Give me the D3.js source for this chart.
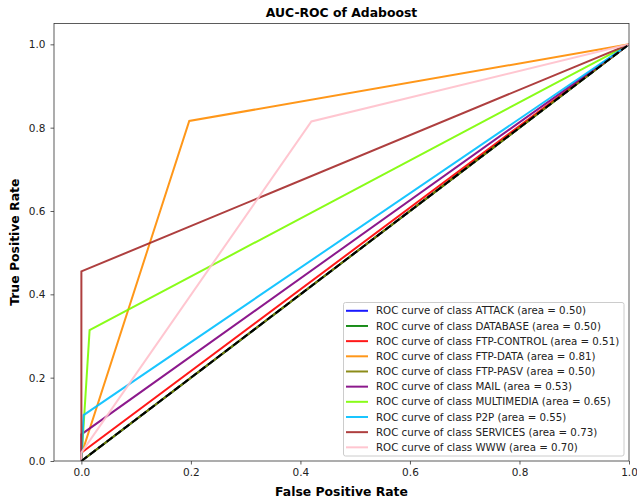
<!DOCTYPE html>
<html>
<head>
<meta charset="utf-8">
<script src="https://cdn.jsdelivr.net/npm/d3@7"></script>
<style>
  html, body { margin: 0; padding: 0; background: #fff; }
  svg { display: block; font-family: "DejaVu Sans", sans-serif; }
</style>
</head>
<body>
<svg id="chart" width="637" height="499"></svg>
<script>
// Per-class ROC curves of the Adaboost classifier (one-vs-rest)
const classes = ["ATTACK", "DATABASE", "FTP-CONTROL", "FTP-DATA", "FTP-PASV",
                 "MAIL", "MULTIMEDIA", "P2P", "SERVICES", "WWW"];
const colors = ["blue", "green", "red", "darkorange", "olive",
                "purple", "lawngreen", "deepskyblue", "brown", "pink"];
const aucLabels = ["0.50", "0.50", "0.51", "0.81", "0.50",
                   "0.53", "0.65", "0.55", "0.73", "0.70"];
// false positive rates / true positive rates per class
const fprs = [
  [0, 0, 1],
  [0, 0, 1],
  [0, 0, 1],
  [0, 0, 0.197, 1],
  [0, 0, 1],
  [0, 0, 1],
  [0, 0.015, 1],
  [0, 0.004, 1],
  [0, 0, 1],
  [0, 0, 0.42, 1]
];
const tprs = [
  [0, 0, 1],
  [0, 0, 1],
  [0, 0.02, 1],
  [0, 0.015, 0.816, 1],
  [0, 0, 1],
  [0, 0.064, 1],
  [0, 0.314, 1],
  [0, 0.11, 1],
  [0, 0.455, 1],
  [0, 0.02, 0.815, 1]
];
const xTicks = [0, 0.2, 0.4, 0.6, 0.8, 1.0];
const yTicks = [0, 0.2, 0.4, 0.6, 0.8, 1.0];

const svg = d3.select("#chart");
const pLeft = 54, pRight = 629, pTop = 23.5, pBottom = 461;
const x = d3.scaleLinear().domain([-0.05, 1.0]).range([pLeft, pRight]);
const y = d3.scaleLinear().domain([0, 1.05]).range([pBottom, pTop]);

svg.append("defs").append("clipPath").attr("id", "clip")
  .append("rect").attr("x", pLeft).attr("y", pTop)
  .attr("width", pRight - pLeft).attr("height", pBottom - pTop);

const line = d3.line().x(d => x(d[0])).y(d => y(d[1]));
const curves = svg.append("g").attr("clip-path", "url(#clip)");
classes.forEach((c, i) => {
  const pts = fprs[i].map((f, j) => [f, tprs[i][j]]);
  curves.append("path").datum(pts)
    .attr("d", line)
    .attr("fill", "none")
    .attr("stroke", colors[i])
    .attr("stroke-opacity", 0.9)
    .attr("stroke-width", 2)
    .attr("stroke-linejoin", "miter");
});
// chance diagonal
curves.append("path").datum([[0, 0], [1, 1]])
  .attr("d", line).attr("fill", "none")
  .attr("stroke", "black").attr("stroke-width", 2)
  .attr("stroke-dasharray", "7.4,3.2");

// axes
const xAxis = d3.axisBottom(x).tickValues(xTicks).tickFormat(d3.format(".1f")).tickSize(3.5).tickPadding(4.5);
const yAxis = d3.axisLeft(y).tickValues(yTicks).tickFormat(d3.format(".1f")).tickSize(3.5).tickPadding(5);
const gx = svg.append("g").attr("transform", `translate(0,${pBottom})`).call(xAxis);
const gy = svg.append("g").attr("transform", `translate(${pLeft},0)`).call(yAxis);
[gx, gy].forEach(g => {
  g.select(".domain").remove();
  g.selectAll("line").attr("stroke", "#333").attr("stroke-width", 0.8);
  g.selectAll("text").attr("fill", "#222").style("font-size", "10.5px").style("font-family", "DejaVu Sans");
});

// frame
svg.append("rect").attr("x", pLeft).attr("y", pTop)
  .attr("width", pRight - pLeft).attr("height", pBottom - pTop)
  .attr("fill", "none").attr("stroke", "#333").attr("stroke-width", 0.8);

// titles
svg.append("text").attr("x", (pLeft + pRight) / 2).attr("y", 17)
  .attr("text-anchor", "middle").style("font-size", "12.4px").style("font-weight", "bold")
  .text("AUC-ROC of Adaboost");
svg.append("text").attr("x", (pLeft + pRight) / 2).attr("y", 495.5)
  .attr("text-anchor", "middle").style("font-size", "12.4px").style("font-weight", "bold")
  .text("False Positive Rate");
svg.append("text").attr("transform", `translate(18.5,${(pTop + pBottom) / 2}) rotate(-90)`)
  .attr("text-anchor", "middle").style("font-size", "12.4px").style("font-weight", "bold")
  .text("True Positive Rate");

// legend
const lg = svg.append("g");
lg.append("rect").attr("x", 343.5).attr("y", 302.5).attr("width", 280.5).attr("height", 153.5)
  .attr("rx", 2).attr("fill", "white").attr("fill-opacity", 0.8)
  .attr("stroke", "#ccc").attr("stroke-width", 1);
classes.forEach((c, i) => {
  const cy = 310.8 + i * 15.17;
  lg.append("line").attr("x1", 346).attr("x2", 368).attr("y1", cy).attr("y2", cy)
    .attr("stroke", colors[i]).attr("stroke-opacity", 0.9).attr("stroke-width", 2);
  lg.append("text").attr("x", 376).attr("y", cy).attr("dy", "0.35em")
    .style("font-size", "10.25px").attr("fill", "#222")
    .text(`ROC curve of class ${c} (area = ${aucLabels[i]})`);
});
</script>
</body>
</html>
